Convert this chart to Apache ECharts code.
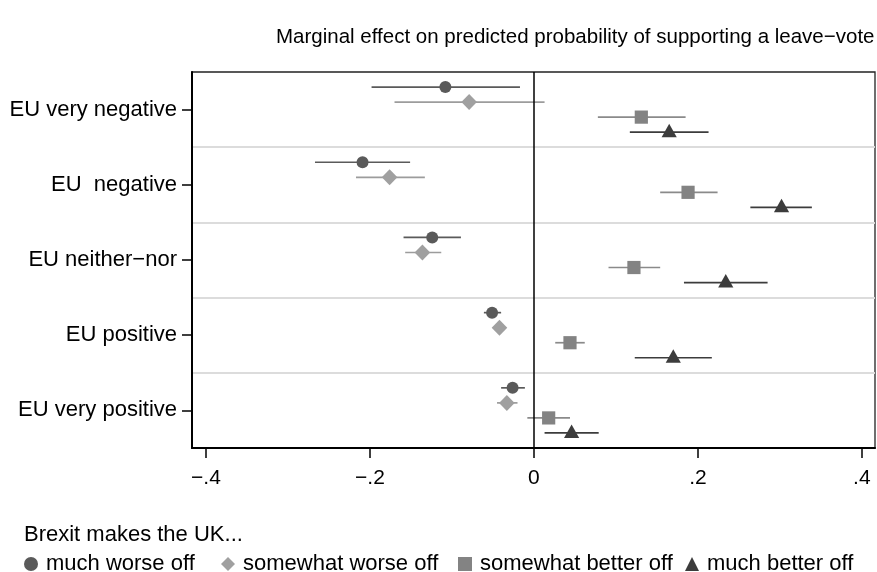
<!DOCTYPE html>
<html><head><meta charset="utf-8">
<script src="https://cdn.jsdelivr.net/npm/echarts@6/dist/echarts.min.js"></script>
<style>html,body{margin:0;padding:0;background:#fff}#c{width:877px;height:572px}</style>
</head><body><div id="c"></div>
<script>
// ---- data ----
const chartTitle = 'Marginal effect on predicted probability of supporting a leave\u2212vote';
const legendTitle = 'Brexit makes the UK...';
const categories = ['EU very negative', 'EU  negative', 'EU neither\u2212nor', 'EU positive', 'EU very positive'];
const groups = ['much worse off', 'somewhat worse off', 'somewhat better off', 'much better off'];
const xTicks = [-0.4, -0.2, 0, 0.2, 0.4];
const xTickLabels = ['\u2212.4', '\u2212.2', '0', '.2', '.4'];

const muchWorseEst = [-0.108, -0.209, -0.124, -0.051, -0.026];
const muchWorseLo  = [-0.198, -0.267, -0.159, -0.061, -0.040];
const muchWorseHi  = [-0.017, -0.151, -0.089, -0.040, -0.011];

const someWorseEst = [-0.079, -0.176, -0.136, -0.042, -0.033];
const someWorseLo  = [-0.170, -0.217, -0.157, -0.048, -0.045];
const someWorseHi  = [0.013, -0.133, -0.113, -0.035, -0.020];

const someBetterEst = [0.131, 0.188, 0.122, 0.044, 0.018];
const someBetterLo  = [0.078, 0.154, 0.091, 0.026, -0.008];
const someBetterHi  = [0.185, 0.224, 0.154, 0.062, 0.044];

const muchBetterEst = [0.165, 0.302, 0.234, 0.170, 0.046];
const muchBetterLo  = [0.117, 0.264, 0.183, 0.123, 0.013];
const muchBetterHi  = [0.213, 0.339, 0.285, 0.217, 0.079];

const groupData = [
  [muchWorseEst, muchWorseLo, muchWorseHi],
  [someWorseEst, someWorseLo, someWorseHi],
  [someBetterEst, someBetterLo, someBetterHi],
  [muchBetterEst, muchBetterLo, muchBetterHi]
];

// ---- styling / layout ----
const FONT = '"Liberation Sans", Arial, Helvetica, sans-serif';
const markerColors = ['#5a5a5a', '#a0a0a0', '#838383', '#3c3c3c'];
const lineColors = ['#5a5a5a', '#9c9c9c', '#8a8a8a', '#3c3c3c'];
const shapes = ['circle', 'diamond', 'rect', 'triangle'];
const bandOffsets = [-0.3, -0.1, 0.1, 0.3];
const legendLefts = [19, 216, 453, 680];

function markerShape(kind, x, y, color) {
  if (kind === 'circle') return {type: 'circle', shape: {cx: x, cy: y, r: 6}, style: {fill: color}};
  if (kind === 'diamond') return {type: 'polygon', shape: {points: [[x, y - 8], [x + 7.8, y], [x, y + 8], [x - 7.8, y]]}, style: {fill: color}};
  if (kind === 'rect') return {type: 'rect', shape: {x: x - 6.6, y: y - 6.6, width: 13.2, height: 13.2}, style: {fill: color}};
  return {type: 'polygon', shape: {points: [[x, y - 8.5], [x + 7.6, y + 5], [x - 7.6, y + 5]]}, style: {fill: color}};
}

const series = groups.map((g, s) => {
  const [est, lo, hi] = groupData[s];
  const s2 = {
    name: g,
    type: 'custom',
    itemStyle: {color: markerColors[s]},
    encode: {x: [0, 2, 3], y: 1},
    data: categories.map((c, i) => [est[i], i, lo[i], hi[i]]),
    renderItem: function (params, api) {
      const cat = api.value(1);
      const c = api.coord([api.value(0), cat]);
      const band = api.size([0, 1])[1];
      const y = c[1] + bandOffsets[s] * band;
      const x0 = api.coord([api.value(2), cat])[0];
      const x1 = api.coord([api.value(3), cat])[0];
      return {
        type: 'group',
        children: [
          {type: 'line', shape: {x1: x0, y1: y, x2: x1, y2: y}, style: {stroke: lineColors[s], lineWidth: 1.7}},
          markerShape(shapes[s], c[0], y, markerColors[s])
        ]
      };
    },
    z: 3
  };
  if (s === 0) {
    s2.markLine = {
      silent: true, symbol: 'none', animation: false,
      label: {show: false},
      lineStyle: {color: '#000', width: 1.5, type: 'solid'},
      data: [{xAxis: 0}]
    };
  }
  return s2;
});

const chart = echarts.init(document.getElementById('c'), null, {renderer: 'canvas'});
chart.setOption({
  animation: false,
  backgroundColor: '#fff',
  textStyle: {fontFamily: FONT},
  title: [
    {text: chartTitle, left: 271, top: 22, textStyle: {fontSize: 20.5, fontWeight: 'normal', color: '#000', fontFamily: FONT}},
    {text: legendTitle, left: 19, top: 519, textStyle: {fontSize: 22, fontWeight: 'normal', color: '#000', fontFamily: FONT}}
  ],
  legend: groups.map((g, s) => ({
    data: [{name: g, icon: shapes[s]}],
    left: legendLefts[s], top: 548,
    itemWidth: 14, itemHeight: 14, itemGap: 0,
    selectedMode: false,
    textStyle: {fontSize: 22, color: '#000', fontFamily: FONT, padding: [0, 0, 0, 3]}
  })),
  grid: {left: 192, right: 2, top: 72, bottom: 124, show: true, borderColor: '#222', borderWidth: 1.3, containLabel: false},
  xAxis: {
    type: 'value', min: -0.417, max: 0.416,
    axisLine: {show: true, onZero: false, lineStyle: {color: '#000', width: 2}},
    axisTick: {show: true, length: 10, inside: false, customValues: xTicks, lineStyle: {color: '#000', width: 1.5}},
    axisLabel: {
      customValues: xTicks, margin: 20, fontSize: 21, color: '#000', fontFamily: FONT,
      formatter: v => { const i = xTicks.findIndex(t => Math.abs(t - v) < 1e-6); return i >= 0 ? xTickLabels[i] : ''; }
    },
    splitLine: {show: false}
  },
  yAxis: {
    type: 'category', data: categories, inverse: true, boundaryGap: true,
    axisLine: {show: true, onZero: false, lineStyle: {color: '#000', width: 2}},
    axisTick: {show: true, alignWithLabel: true, length: 10, lineStyle: {color: '#000', width: 1.5}},
    axisLabel: {margin: 15, fontSize: 22, color: '#000', fontFamily: FONT},
    splitLine: {show: true, showMinLine: false, showMaxLine: false, lineStyle: {color: '#dcdcdc', width: 2}}
  },
  series: series
});
</script></body></html>
